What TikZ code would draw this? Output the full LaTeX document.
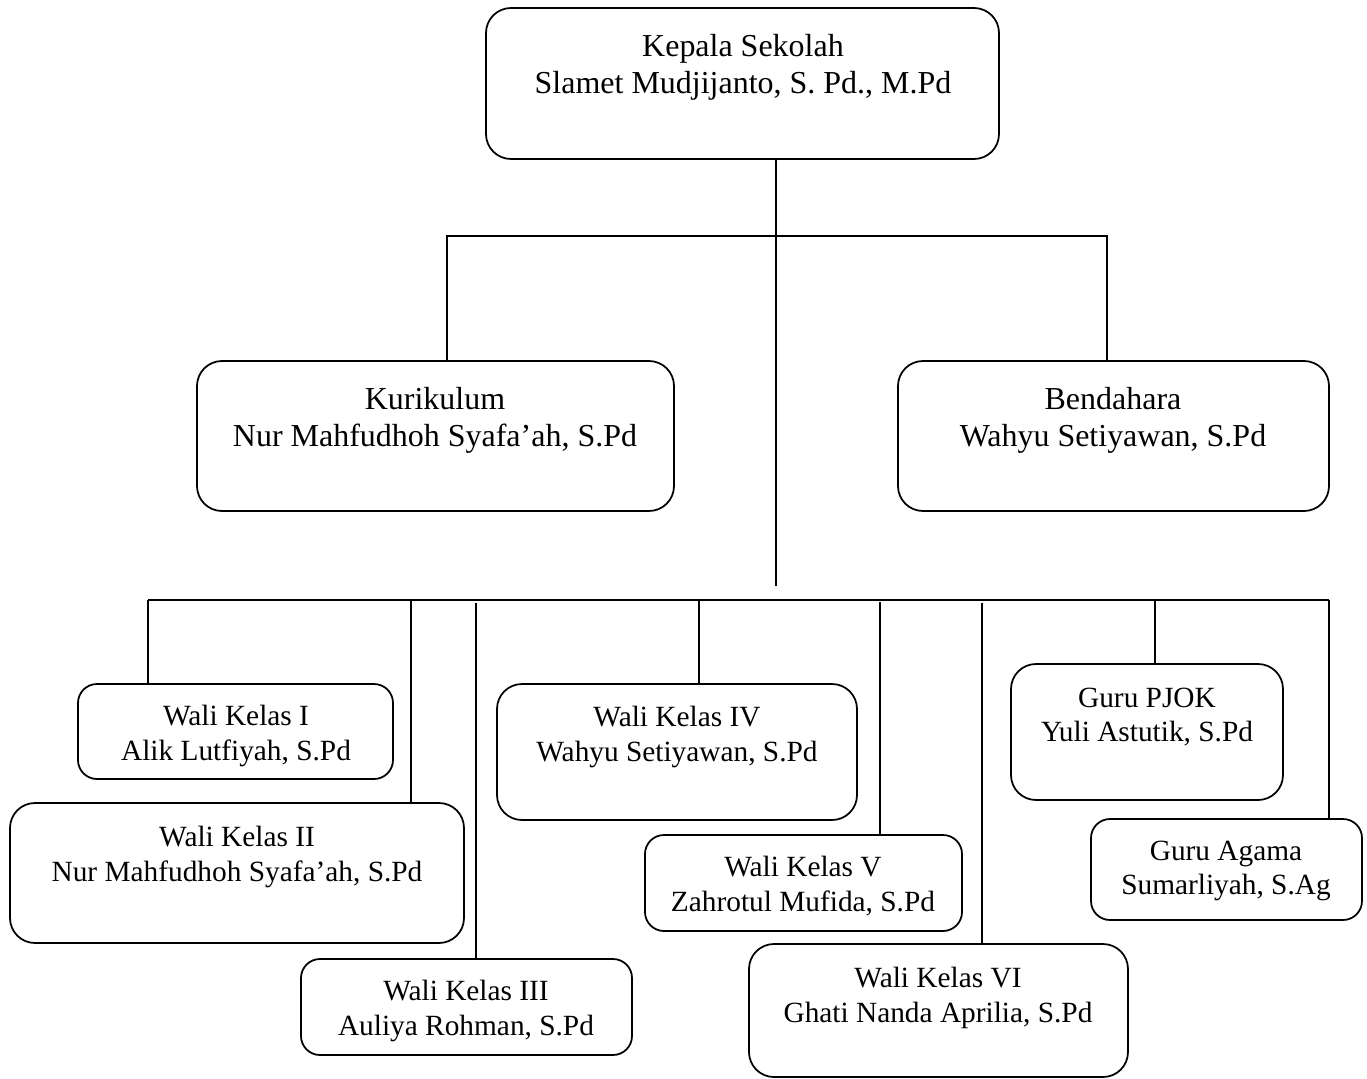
\documentclass[tikz,border=0pt]{standalone}
\usepackage{fontspec}
\setmainfont{Liberation Serif}
\usetikzlibrary{fit}
\tikzset{
  kotak/.style={draw, line width=1pt, rounded corners=0.5cm, inner sep=0pt},
  kotakkecil/.style={kotak, rounded corners=0.38cm},
  isi/.style={align=center, font=\fontsize{18.2}{21}\selectfont, inner sep=0pt},
  isikecil/.style={isi, font=\fontsize{16.7}{19.6}\selectfont},
  garis/.style={line width=1pt}
}
\begin{document}
\begin{tikzpicture}[x=0.02cm,y=-0.02cm]
\useasboundingbox (0,0) rectangle (1367,1079);
% pimpinan
\node[kotak, fit={(486,8) (999,159)}] (kepsek) {};
\node[isi] (kepsek-t) at (743,67) {Kepala Sekolah\\Slamet Mudjijanto, S. Pd., M.Pd};
\node[kotak, fit={(197,361) (674,511)}] (kurikulum) {};
\node[isi] (kurikulum-t) at (435,420) {Kurikulum\\Nur Mahfudhoh Syafa’ah, S.Pd};
\node[kotak, fit={(898,361) (1329,511)}] (bendahara) {};
\node[isi] (bendahara-t) at (1113,420) {Bendahara\\Wahyu Setiyawan, S.Pd};
% wali kelas dan guru
\node[kotakkecil, fit={(78,684) (393,779)}] (wk1) {};
\node[isikecil] (wk1-t) at (236,736) {Wali Kelas I\\Alik Lutfiyah, S.Pd};
\node[kotak, fit={(10,803) (464,943)}] (wk2) {};
\node[isikecil] (wk2-t) at (237,857) {Wali Kelas II\\Nur Mahfudhoh Syafa’ah, S.Pd};
\node[kotakkecil, fit={(301,959) (632,1055)}] (wk3) {};
\node[isikecil] (wk3-t) at (466,1011) {Wali Kelas III\\Auliya Rohman, S.Pd};
\node[kotak, fit={(497,684) (857,820)}] (wk4) {};
\node[isikecil] (wk4-t) at (677,737) {Wali Kelas IV\\Wahyu Setiyawan, S.Pd};
\node[kotakkecil, fit={(645,835) (962,931)}] (wk5) {};
\node[isikecil] (wk5-t) at (803,886) {Wali Kelas V\\Zahrotul Mufida, S.Pd};
\node[kotak, fit={(749,944) (1128,1077)}] (wk6) {};
\node[isikecil] (wk6-t) at (938,998) {Wali Kelas VI\\Ghati Nanda Aprilia, S.Pd};
\node[kotak, fit={(1011,664) (1283,800)}] (pjok) {};
\node[isikecil] (pjok-t) at (1147,717) {Guru PJOK\\Yuli Astutik, S.Pd};
\node[kotakkecil, fit={(1091,819) (1362,920)}] (agama) {};
\node[isikecil] (agama-t) at (1226,871) {Guru Agama\\Sumarliyah, S.Ag};
% garis
\coordinate (pusat) at (776,586);
\coordinate (ka) at (447,236);
\coordinate (kb) at (1107,236);
\coordinate (ba) at (148,600);
\coordinate (bb) at (1329,600);
\draw[garis] (kepsek.south -| pusat) -- (pusat);
\draw[garis] (kurikulum.north -| ka) -- (ka) -- (kb) -- (bendahara.north -| kb);
\draw[garis] (ba) -- (bb);
\draw[garis] (ba) -- (wk1.north -| ba);
\draw[garis] (411,600) -- (wk2.north -| 411,0);
\draw[garis] (476,603) -- (wk3.north -| 476,0);
\draw[garis] (699,600) -- (wk4.north -| 699,0);
\draw[garis] (880,602) -- (wk5.north -| 880,0);
\draw[garis] (982,603) -- (wk6.north -| 982,0);
\draw[garis] (1155,600) -- (pjok.north -| 1155,0);
\draw[garis] (bb) -- (agama.north -| bb);
\end{tikzpicture}
\end{document}
